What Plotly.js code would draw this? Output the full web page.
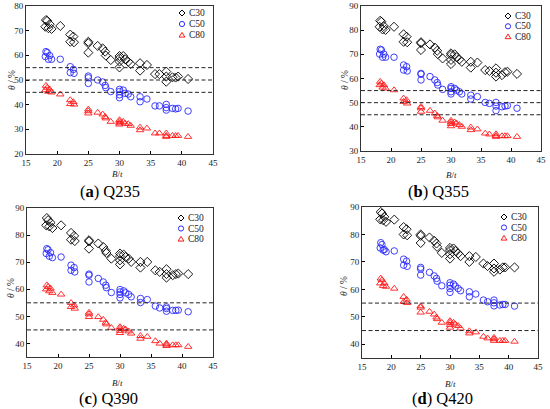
<!DOCTYPE html>
<html>
<head>
<meta charset="utf-8">
<script src="https://cdn.plot.ly/plotly-3.0.1.min.js"></script>
<style>html,body{margin:0;padding:0;background:#fff;}#chart{width:550px;height:409px;}</style>
</head>
<body>
<div id="chart"></div>
<script>
// ---- data (B/t vs theta %) ----
const bt = [18.2, 18.4, 18.1, 18.8, 18.6, 19.1, 20.5, 22.1, 22.6, 22.1, 22.7, 25.0, 25.0, 25.0, 26.5, 27.3, 27.7, 27.8, 28.6, 30.0, 30.0, 30.0, 30.0, 30.6, 30.9, 31.4, 31.8, 33.3, 33.3, 34.4, 35.7, 36.4, 37.5, 37.5, 37.5, 38.5, 39.0, 39.4, 41.0];

const q235_C30 = [74.3, 74.0, 71.6, 72.6, 71.0, 70.7, 71.9, 68.4, 67.6, 65.5, 65.3, 65.5, 64.9, 61.1, 63.8, 62.8, 61.5, 59.9, 58.1, 59.7, 58.8, 57.5, 55.1, 59.7, 58.4, 57.4, 56.5, 56.8, 53.8, 56.1, 52.4, 52.4, 53.4, 51.4, 49.3, 51.1, 51.0, 51.4, 50.4];
const q235_C50 = [61.5, 61.1, 59.5, 59.9, 58.4, 58.4, 58.4, 55.4, 54.3, 53.0, 52.7, 51.6, 50.9, 48.6, 50.0, 49.2, 47.8, 46.9, 45.3, 46.2, 45.3, 44.0, 42.8, 45.9, 44.6, 44.3, 43.2, 43.2, 41.2, 42.3, 39.5, 39.5, 40.1, 38.8, 37.8, 38.5, 38.3, 38.5, 37.4];
const q235_C80 = [47.7, 46.9, 45.9, 46.2, 45.3, 45.0, 44.2, 41.9, 41.1, 40.3, 40.1, 38.1, 37.4, 36.5, 36.8, 36.1, 35.1, 34.5, 33.1, 33.8, 33.1, 32.5, 32.0, 33.1, 32.4, 32.2, 31.5, 30.8, 29.7, 30.4, 28.4, 28.4, 28.4, 27.4, 27.0, 27.4, 27.4, 27.4, 27.0];

const q355_C30 = [83.9, 83.5, 81.4, 81.7, 80.3, 80.1, 81.4, 78.3, 77.3, 75.2, 75.0, 75.0, 74.6, 71.8, 74.1, 72.8, 71.5, 70.1, 68.3, 70.4, 69.7, 67.7, 66.0, 70.0, 68.8, 67.9, 66.9, 66.9, 64.5, 66.6, 63.5, 63.1, 64.2, 62.4, 60.8, 61.4, 62.6, 62.8, 61.9];
const q355_C50 = [72.1, 71.8, 70.1, 70.1, 68.8, 68.8, 68.8, 65.6, 64.9, 63.5, 63.1, 62.1, 61.8, 59.4, 60.8, 59.4, 58.3, 57.3, 55.5, 56.6, 55.9, 54.5, 53.6, 55.9, 55.2, 54.5, 53.6, 53.1, 51.5, 52.5, 50.1, 49.7, 50.1, 48.6, 46.7, 48.3, 48.6, 48.8, 47.7];
const q355_C80 = [58.7, 58.0, 57.3, 57.3, 56.3, 55.9, 55.2, 51.8, 51.1, 50.4, 49.7, 48.3, 47.7, 46.3, 46.7, 45.6, 44.6, 44.0, 42.6, 42.6, 41.9, 41.2, 40.3, 41.9, 41.5, 40.8, 40.1, 39.8, 38.7, 39.0, 37.3, 36.9, 37.0, 36.3, 35.9, 36.2, 36.2, 36.2, 35.9];

const q390_C30 = [86.3, 85.5, 83.6, 84.6, 83.2, 82.6, 83.6, 80.8, 79.7, 78.3, 77.8, 78.1, 77.7, 75.0, 76.9, 75.6, 74.2, 73.4, 71.3, 73.2, 72.3, 70.7, 69.2, 72.8, 71.9, 71.3, 70.1, 70.1, 68.0, 70.1, 67.0, 66.4, 67.4, 65.6, 64.3, 65.2, 65.6, 65.8, 65.6];
const q390_C50 = [75.0, 74.6, 73.2, 73.5, 72.2, 71.7, 71.9, 68.9, 68.0, 67.0, 66.4, 65.6, 65.2, 62.7, 64.0, 62.7, 61.5, 60.6, 58.8, 59.9, 59.0, 58.1, 56.8, 59.4, 58.7, 58.1, 57.2, 56.6, 55.1, 56.2, 53.8, 53.1, 53.5, 52.9, 51.9, 52.2, 52.2, 52.3, 51.7];
const q390_C80 = [61.5, 60.9, 60.0, 60.3, 59.3, 58.7, 58.1, 55.0, 54.1, 53.5, 52.9, 51.4, 50.8, 49.8, 49.8, 48.8, 47.7, 47.1, 45.8, 46.1, 45.5, 44.7, 43.9, 45.5, 45.2, 44.5, 43.7, 42.8, 41.8, 42.5, 40.9, 40.0, 40.0, 39.6, 39.1, 39.4, 39.4, 39.4, 38.8];

const q420_C30 = [88.2, 87.6, 85.5, 86.4, 85.2, 84.6, 85.4, 82.7, 81.9, 80.0, 79.7, 80.0, 79.5, 76.9, 78.9, 77.7, 76.7, 75.5, 73.3, 75.1, 74.3, 72.8, 71.2, 74.9, 74.0, 73.1, 72.1, 72.1, 70.0, 71.8, 69.4, 68.5, 69.4, 67.6, 66.4, 67.2, 68.0, 68.0, 68.0];
const q420_C50 = [77.0, 76.3, 75.1, 74.5, 74.3, 73.7, 74.0, 71.0, 70.3, 68.8, 68.4, 68.0, 67.4, 65.2, 66.2, 64.9, 64.0, 63.0, 61.3, 62.4, 61.5, 60.3, 58.9, 61.9, 61.2, 60.3, 59.5, 59.1, 57.3, 58.3, 56.1, 55.5, 56.1, 55.1, 54.0, 54.3, 54.5, 54.5, 53.9];
const q420_C80 = [64.0, 63.4, 62.2, 62.2, 61.3, 61.0, 60.3, 57.3, 56.3, 55.5, 55.1, 53.9, 53.4, 51.6, 51.9, 50.9, 49.8, 49.2, 47.9, 48.5, 47.9, 47.0, 46.1, 47.9, 47.3, 46.7, 45.8, 44.8, 44.0, 44.4, 42.8, 42.2, 42.4, 41.9, 41.3, 41.3, 41.3, 41.3, 41.0];

const seriesNames = ["C30", "C50", "C80"];
const panelLetters = ["a", "b", "c", "d"];
const steelGrades = ["Q235", "Q355", "Q390", "Q420"];
const yRanges = [[20, 80], [30, 90], [35, 90], [35, 90]];
const thresholds = [[55, 50, 45], [55, 50, 45], [55, 45], [55, 45]];
const xRange = [15, 45];

// ---- styling / layout ----
const W = 550, H = 409;
const FONT = "'Liberation Serif', 'Times New Roman', Times, serif";
const colors = ["#000000", "#2b2bff", "#ff1a1a"];
const symbols = ["diamond-open", "circle-open", "triangle-up-open"];
const msizes = [7, 6.5, 6.5];
const panelData = [
  [q235_C30, q235_C50, q235_C80],
  [q355_C30, q355_C50, q355_C80],
  [q390_C30, q390_C50, q390_C80],
  [q420_C30, q420_C50, q420_C80]
];
// plot boxes in pixels: [left, right, top, bottom]
const boxes = [[26, 213, 6, 154], [361, 541, 6, 151], [27, 213, 208, 357], [362, 538, 207, 358]];
const legendPos = [[182, 13, 11], [508, 16, 10.3], [181, 218, 10.5], [504, 217, 10.5]];
const yTitlePos = [[12, 80], [345, 80], [11, 288], [344, 286]];
const xTitlePos = [[117, 174], [451, 175], [117, 383], [450, 384]];
const capPos = [[110, 191], [438, 191], [108, 398], [442, 398]];

const px = v => v / W, py = v => 1 - v / H;

const traces = [];
const layout = {
  width: W, height: H,
  margin: {l: 0, r: 0, t: 0, b: 0},
  paper_bgcolor: "#fff", plot_bgcolor: "#fff",
  showlegend: false,
  font: {family: FONT, size: 9, color: "#000"},
  shapes: [], annotations: []
};

boxes.forEach((b, i) => {
  const n = i + 1;
  const xa = "xaxis" + (n === 1 ? "" : n), ya = "yaxis" + (n === 1 ? "" : n);
  const xr = "x" + (n === 1 ? "" : n), yr = "y" + (n === 1 ? "" : n);
  layout[xa] = {
    domain: [px(b[0]), px(b[1])], range: xRange, anchor: yr,
    dtick: 5, tick0: 15, ticks: "inside", ticklen: 3, tickwidth: 1, tickcolor: "#000",
    showline: true, linecolor: "#333", linewidth: 1, mirror: true,
    showgrid: false, zeroline: false,
    tickfont: {family: FONT, size: 9, color: "#222"}
  };
  layout[ya] = {
    domain: [py(b[3]), py(b[2])], range: yRanges[i], anchor: xr,
    dtick: 10, ticks: "inside", ticklen: 3, tickwidth: 1, tickcolor: "#000",
    showline: true, linecolor: "#333", linewidth: 1, mirror: true,
    showgrid: false, zeroline: false,
    tickfont: {family: FONT, size: 9, color: "#222"}
  };
  // threshold dashed lines
  thresholds[i].forEach(t => {
    layout.shapes.push({type: "line", xref: xr + " domain", yref: yr, x0: 0, x1: 1, y0: t, y1: t,
      line: {color: "#222", width: 1, dash: "4px,2.5px"}});
  });
  // data traces
  panelData[i].forEach((ys, k) => {
    traces.push({
      type: "scatter", mode: "markers", x: bt, y: ys, xaxis: xr, yaxis: yr,
      name: seriesNames[k],
      marker: {symbol: symbols[k], size: msizes[k], color: colors[k], line: {width: 0.9, color: colors[k]}}
    });
  });
  // manual legend
  const [lx, ly, gap] = legendPos[i];
  seriesNames.forEach((s, k) => {
    const cy = ly + k * gap, r = 2.6;
    let path;
    if (k === 0) path = `M ${px(lx)},${py(cy - r - 0.4)} L ${px(lx + r + 0.4)},${py(cy)} L ${px(lx)},${py(cy + r + 0.4)} L ${px(lx - r - 0.4)},${py(cy)} Z`;
    else if (k === 2) path = `M ${px(lx)},${py(cy - r)} L ${px(lx + r + 0.3)},${py(cy + r * 0.8)} L ${px(lx - r - 0.3)},${py(cy + r * 0.8)} Z`;
    if (k === 1) {
      layout.shapes.push({type: "circle", xref: "paper", yref: "paper",
        x0: px(lx - r), x1: px(lx + r), y0: py(cy + r), y1: py(cy - r),
        line: {color: colors[k], width: 1}});
    } else {
      layout.shapes.push({type: "path", xref: "paper", yref: "paper", path: path,
        line: {color: colors[k], width: 1}});
    }
    layout.annotations.push({xref: "paper", yref: "paper", x: px(lx + 5), y: py(cy),
      xanchor: "left", yanchor: "middle", showarrow: false, text: s,
      font: {family: FONT, size: 9.5, color: "#222"}});
  });
  // axis titles
  layout.annotations.push({xref: "paper", yref: "paper", x: px(yTitlePos[i][0]), y: py(yTitlePos[i][1]),
    xanchor: "center", yanchor: "middle", showarrow: false, textangle: -90,
    text: "<i>θ</i> / %", font: {family: FONT, size: 9.5, color: "#222"}});
  layout.annotations.push({xref: "paper", yref: "paper", x: px(xTitlePos[i][0]), y: py(xTitlePos[i][1]),
    xanchor: "center", yanchor: "middle", showarrow: false,
    text: "<i>B</i>/<i>t</i>", font: {family: FONT, size: 9, color: "#222"}});
  // caption
  layout.annotations.push({xref: "paper", yref: "paper", x: px(capPos[i][0]), y: py(capPos[i][1]),
    xanchor: "center", yanchor: "middle", showarrow: false,
    text: "(<b>" + panelLetters[i] + "</b>) " + steelGrades[i], font: {family: FONT, size: 16.5, color: "#000"}});
});

Plotly.newPlot("chart", traces, layout, {staticPlot: true, displayModeBar: false});
</script>
</body>
</html>
